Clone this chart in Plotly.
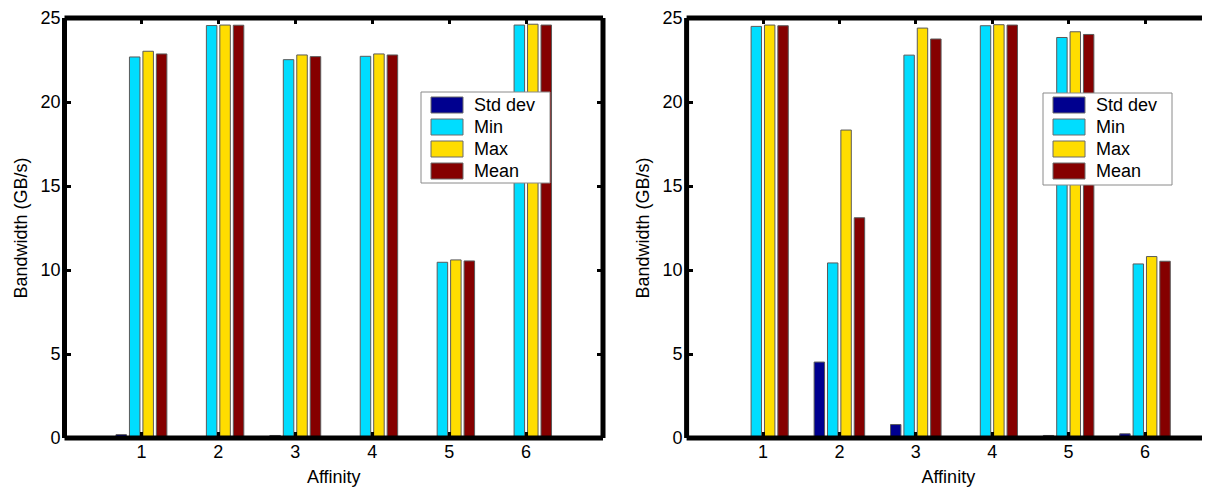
import plotly.graph_objects as go

affinity = [1, 2, 3, 4, 5, 6]
series_names = ["Std dev", "Min", "Max", "Mean"]
colors = ["#00008F", "#00DDFF", "#FFDD00", "#850000"]

left_std = [0.20, 0.04, 0.15, 0.05, 0.03, 0.05]
left_min = [22.68, 24.55, 22.52, 22.72, 10.46, 24.58]
left_max = [23.02, 24.58, 22.80, 22.86, 10.60, 24.63]
left_mean = [22.86, 24.57, 22.70, 22.80, 10.54, 24.58]

right_std = [0.02, 4.52, 0.80, 0.03, 0.15, 0.25]
right_min = [24.50, 10.42, 22.79, 24.54, 23.84, 10.36]
right_max = [24.58, 18.33, 24.40, 24.60, 24.18, 10.80]
right_mean = [24.54, 13.11, 23.75, 24.58, 24.02, 10.52]

# page has an 8px body margin; figure coordinates are page - 8
W, H = 1202, 479
MT, MB = 10, 49
PH = H - MT - MB
FONT = "Liberation Sans, Arial, Helvetica, sans-serif"

fig = go.Figure()
left_series = [left_std, left_min, left_max, left_mean]
right_series = [right_std, right_min, right_max, right_mean]

for name, vals, col in zip(series_names, left_series, colors):
    fig.add_trace(go.Bar(x=affinity, y=vals, name=name, showlegend=False,
                         marker=dict(color=col, line=dict(color="#5a5a5a", width=1)),
                         xaxis="x", yaxis="y"))
for name, vals, col in zip(series_names, right_series, colors):
    fig.add_trace(go.Bar(x=affinity, y=vals, name=name, showlegend=False,
                         marker=dict(color=col, line=dict(color="#5a5a5a", width=1)),
                         xaxis="x2", yaxis="y2"))

axis_common = dict(showline=False, ticks="inside", ticklen=6, tickwidth=3,
                   tickcolor="black", showgrid=False, zeroline=False, ticklabeloverflow="allow",
                   tickfont=dict(size=18, family=FONT, color="black"))


def px_x(xpage):
    return (xpage - 8) / W


def px_y(ypage):
    return (H - MB - (ypage - 8)) / PH


shapes = []
annotations = []

# axes frames (centered on the plot edges)
frame = dict(color="black", width=5)
for xr, yr, sides in (("x domain", "y domain", ["b", "t", "l", "r"]), ("x2 domain", "y2 domain", ["b", "t", "l"])):
    seg = {"b": (0, 0, 1, 0), "t": (0, 1, 1, 1), "l": (0, 0, 0, 1), "r": (1, 0, 1, 1)}
    for s in sides:
        x0, y0, x1, y1 = seg[s]
        shapes.append(dict(type="line", xref=xr, yref=yr, x0=x0, y0=y0, x1=x1, y1=y1, line=frame, layer="above"))


def add_legend(box_x0, box_x1, box_y0, box_y1, dx):
    shapes.append(dict(type="rect", xref="paper", yref="paper",
                       x0=px_x(box_x0 + dx), x1=px_x(box_x1 + dx), y0=px_y(box_y1), y1=px_y(box_y0),
                       line=dict(color="#8a8a8a", width=1), fillcolor="white", layer="above"))
    row_tops = [97, 119, 141, 163]
    for name, col, top in zip(series_names, colors, row_tops):
        shapes.append(dict(type="rect", xref="paper", yref="paper",
                           x0=px_x(431 + dx), x1=px_x(463 + dx), y0=px_y(top + 16), y1=px_y(top),
                           line=dict(color="#6a6a6a", width=1), fillcolor=col, layer="above"))
        annotations.append(dict(xref="paper", yref="paper", x=px_x(472 + dx), y=px_y(top + 8),
                                xanchor="left", yanchor="middle", showarrow=False, text=name,
                                font=dict(size=18, family=FONT, color="black")))


add_legend(421, 550, 92, 183, 0)
add_legend(421, 550, 93, 185, 622)

fig.update_layout(
    width=W, height=H,
    margin=dict(l=0, r=0, t=MT, b=MB),
    paper_bgcolor="white", plot_bgcolor="white",
    font=dict(family=FONT, size=18, color="black"),
    barmode="group", bargap=0.30, bargroupgap=0.22,
    showlegend=False,
    xaxis=dict(domain=[px_x(64.5), px_x(603)], range=[0, 7], tickvals=affinity, mirror="ticks",
               ticklabelstandoff=1,
               title=dict(text="Affinity", standoff=9, font=dict(size=18, family=FONT)), anchor="y", **axis_common),
    yaxis=dict(domain=[0, 1], range=[0, 25], tickvals=[0, 5, 10, 15, 20, 25], mirror="ticks",
               ticklabelstandoff=3,
               title=dict(text="Bandwidth (GB/s)", standoff=8, font=dict(size=18, family=FONT)), anchor="x",
               **axis_common),
    xaxis2=dict(domain=[px_x(686.6), 1.0], range=[0, (1210 - 686.6) / 76.4], tickvals=affinity, mirror="ticks",
                ticklabelstandoff=1,
                title=dict(text="Affinity", standoff=9, font=dict(size=18, family=FONT)), anchor="y2",
                **axis_common),
    yaxis2=dict(domain=[0, 1], range=[0, 25], tickvals=[0, 5, 10, 15, 20, 25], mirror=False,
                ticklabelstandoff=3,
                title=dict(text="Bandwidth (GB/s)", standoff=8, font=dict(size=18, family=FONT)), anchor="x2",
                **axis_common),
    shapes=shapes,
    annotations=annotations,
)

fig.write_html("out.html")
